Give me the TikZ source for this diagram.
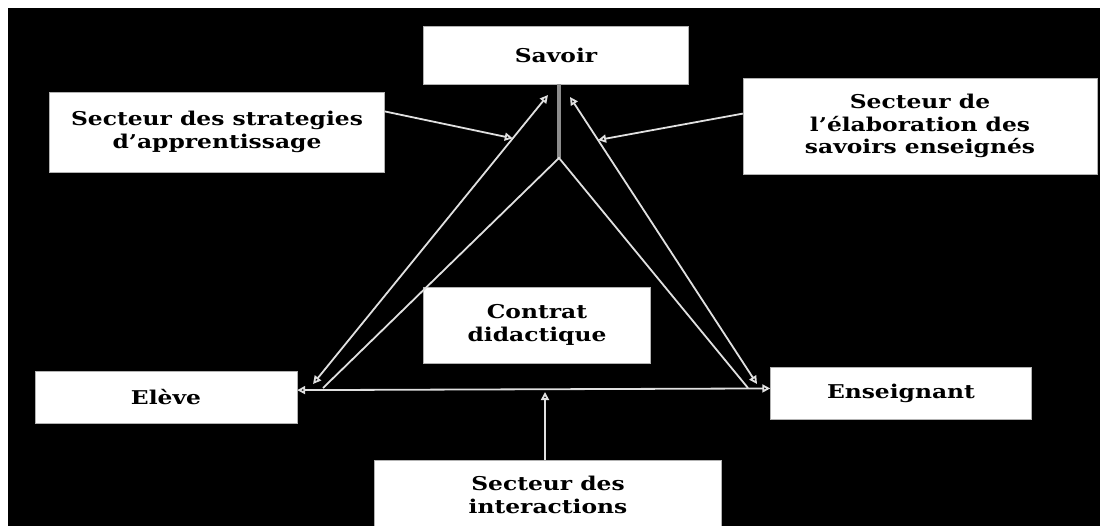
\documentclass[tikz,border=0pt]{standalone}
\usepackage{fontspec}
\setmainfont{DejaVu Serif}[FakeStretch=1.23]
\usetikzlibrary{arrows.meta, positioning, calc}

\begin{document}
\begin{tikzpicture}[x=1pt, y=-1pt,
    box/.style={draw=black!30, fill=white, text=black, align=center, inner sep=0pt,
      font=\bfseries\fontsize{19}{22.5}\selectfont},
    link/.style={draw=black!12, line width=1.8pt,
      {Triangle[open, length=8pt, width=8pt]}-{Triangle[open, length=8pt, width=8pt]}},
    pointer/.style={draw=black!12, line width=1.8pt, -{Triangle[open, length=8pt, width=8pt]}}]

    % background
    \useasboundingbox[fill=white] (0,0) rectangle (1107,526);
    \fill[black] (8,8) rectangle (1100,526);

    \node[box, minimum width=265, minimum height=58] (savoir) at (556,55) {Savoir};
    \node[box, minimum width=335, minimum height=80] (strat) at (217,132) {Secteur des strategies\\d’apprentissage};
    \node[box, minimum width=354, minimum height=96] (elab) at (920,126) {Secteur de\\l’élaboration des\\savoirs enseignés};
    \node[box, minimum width=227, minimum height=76] (contrat) at (537,325) {Contrat\\didactique};
    \node[box, minimum width=262, minimum height=52] (eleve) at (166,397) {Elève};
    \node[box, minimum width=261, minimum height=52] (enseig) at (901,393) {Enseignant};
    \node[box, minimum width=347, minimum height=70] (inter) at (548,495) {Secteur des\\interactions};

    % corners of the triangle
    \coordinate (top) at (559,158);
    \coordinate (lt) at (548,95);
    \coordinate (rt) at (570,97);
    \coordinate (lb) at (313,384);
    \coordinate (rb) at (757,384);
    \coordinate (li) at (323,388);
    \coordinate (ri) at (748,388);
    \coordinate (sl) at ($(lb)!0.85!(lt)$);
    \coordinate (sr) at ($(rb)!0.85!(rt)$);
    \coordinate (mid) at (545,392);

    \draw[black!45, line width=4pt] (savoir.south -| top) -- (top);
    \draw[black!12, line width=1.8pt] (li) -- (top) -- (ri);
    \draw[link] (lb) -- (lt);
    \draw[link] (rb) -- (rt);
    \draw[link] (eleve.3) -- (enseig.178.5);
    \draw[pointer] (strat.7) -- (sl);
    \draw[pointer] (elab.176) -- (sr);
    \draw[pointer] (inter.north -| mid) -- (mid);

\end{tikzpicture}
\end{document}
